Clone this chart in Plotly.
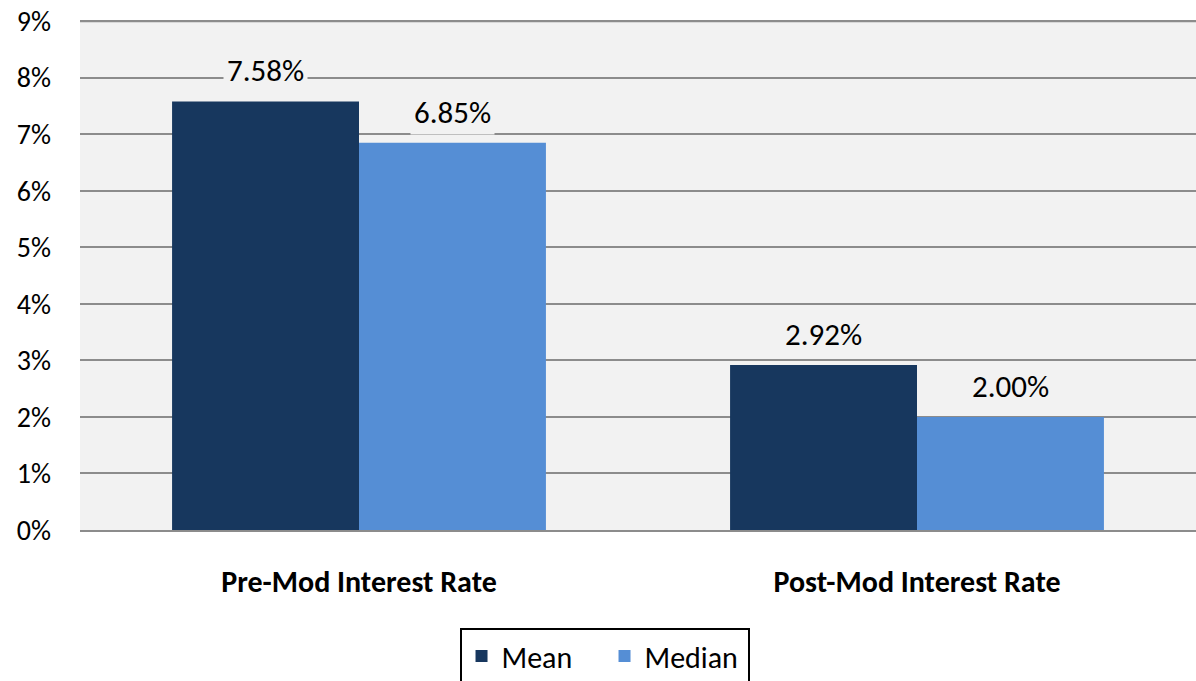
import plotly.graph_objects as go

categories = ["Pre-Mod Interest Rate", "Post-Mod Interest Rate"]
series_names = ["Mean", "Median"]
mean_values = [7.58, 2.92]
median_values = [6.85, 2.00]
series_values = [mean_values, median_values]
colors = ["#17375e", "#558ed5"]
y_ticks = list(range(0, 10))
y_tick_labels = [f"{v}%" for v in y_ticks]

FONT = "Carlito, Calibri, Lato, sans-serif"
W, H = 1196, 681
ML, MR, MT, MB = 80, 0, 20, 151
BARGAP = 0.33
GRID = "#8c8c8c"

fig = go.Figure()
for name, vals, c in zip(series_names, series_values, colors):
    fig.add_trace(go.Bar(
        x=categories, y=vals, name=name, marker=dict(color=c, line=dict(width=0)),
    ))

plot_w = W - ML - MR
cat_w = plot_w / len(categories)
bar_w = cat_w * (1 - BARGAP) / len(series_names)
annotations = []
for j, vals in enumerate(series_values):
    shift = (j - (len(series_names) - 1) / 2) * bar_w
    for cat, v in zip(categories, vals):
        annotations.append(dict(
            x=cat, y=v, xref="x", yref="y", text=f"{v:.2f}%", showarrow=False,
            xshift=shift, yshift=8, yanchor="bottom",
            font=dict(family=FONT, size=31, color="#000000"),
            bgcolor="#f2f2f2", borderpad=3,
        ))

# top gridline (plotly drops gridlines at the very edge of the range)
fig.add_shape(type="line", xref="paper", yref="y", x0=0, x1=1,
              y0=y_ticks[-1], y1=y_ticks[-1], line=dict(color=GRID, width=2),
              layer="below")

fig.update_layout(
    width=W, height=H,
    margin=dict(l=ML, r=MR, t=MT, b=MB, autoexpand=False),
    paper_bgcolor="#ffffff", plot_bgcolor="#f2f2f2",
    barmode="group", bargap=BARGAP, bargroupgap=0,
    annotations=annotations,
    showlegend=True,
    legend=dict(
        orientation="h", x=0.47, xanchor="center", y=-0.192, yanchor="top",
        font=dict(family=FONT, size=30, color="#000000"),
        bordercolor="#000000", borderwidth=2, bgcolor="#ffffff",
        itemsizing="constant", itemwidth=30,
        entrywidth=98, entrywidthmode="pixels",
    ),
    xaxis=dict(
        showgrid=False, showline=True, linecolor=GRID, linewidth=2,
        tickfont=dict(family=FONT, size=30, color="#000000", weight="bold"),
        ticks="", ticklabelstandoff=24, automargin=False,
    ),
    yaxis=dict(
        range=[0, y_ticks[-1] + 0.02], tickvals=y_ticks, ticktext=y_tick_labels,
        showgrid=True, gridcolor=GRID, gridwidth=2, zeroline=False,
        tickfont=dict(family=FONT, size=28, color="#000000"),
        ticks="", ticklabelstandoff=28, ticklabeloverflow="allow",
        automargin=False,
    ),
)

fig.write_html("out.html", config={"displayModeBar": False},
               post_script="document.body.style.margin='0';")
